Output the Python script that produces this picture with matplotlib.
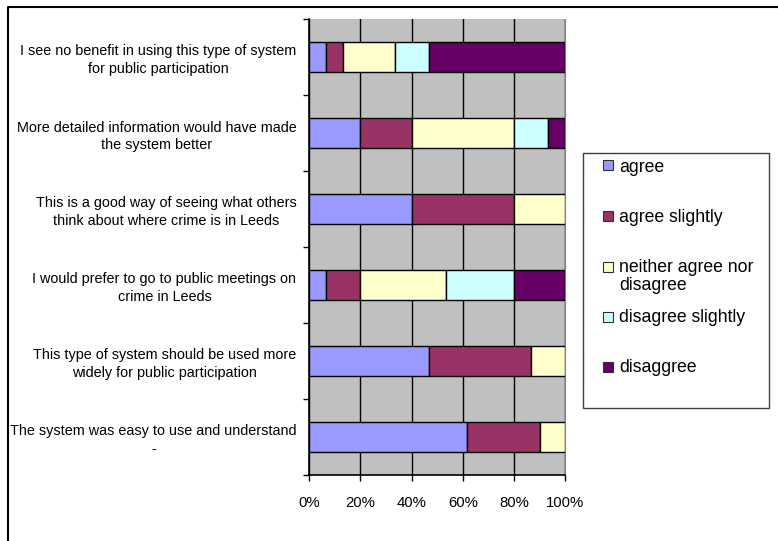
import matplotlib

matplotlib.use("Agg")
import matplotlib.pyplot as plt  # noqa: E402
import numpy as np  # noqa: E402
from matplotlib.lines import Line2D  # noqa: E402
from matplotlib.patches import Rectangle  # noqa: E402

plt.rcParams["font.family"] = ["Liberation Sans", "DejaVu Sans"]

# statements, listed top to bottom as they appear in the chart
STATEMENTS = [
    "I see no benefit in using this type of system\nfor public participation",
    "More detailed information would have made\nthe system better",
    "This is a good way of seeing what others\nthink about where crime is in Leeds",
    "I would prefer to go to public meetings on\ncrime in Leeds",
    "This type of system should be used more\nwidely for public participation",
    "The system was easy to use and understand\n-",
]

# percentage of responses per statement
AGREE = [6.7, 20.0, 40.0, 6.7, 46.7, 61.8]
AGREE_SLIGHTLY = [6.7, 20.0, 40.0, 13.3, 40.0, 28.4]
NEITHER = [20.0, 40.0, 20.0, 33.3, 13.3, 9.8]
DISAGREE_SLIGHTLY = [13.3, 13.3, 0.0, 26.7, 0.0, 0.0]
DISAGREE = [53.3, 6.7, 0.0, 20.0, 0.0, 0.0]

SERIES_LABELS = ["agree", "agree slightly", "neither agree nor\ndisagree",
                 "disagree slightly", "disaggree"]
SERIES_COLORS = ["#9999FF", "#993366", "#FFFFCC", "#CCFFFF", "#660066"]
X_TICKS = [0, 20, 40, 60, 80, 100]

W, H = 778, 541


def fx(px):
    return px / W


def fy(py):
    return 1 - py / H


fig = plt.figure(figsize=(W / 100, H / 100), dpi=100)
ax = fig.add_axes([fx(309), fy(475), fx(565.3) - fx(309), fy(19) - fy(475)])
ax.set_facecolor("#C0C0C0")

n = len(STATEMENTS)
ys = np.arange(n)[::-1]
left = np.zeros(n)
for vals, color in zip([AGREE, AGREE_SLIGHTLY, NEITHER, DISAGREE_SLIGHTLY, DISAGREE],
                       SERIES_COLORS):
    vals = np.array(vals)
    mask = vals > 0
    ax.barh(ys[mask], vals[mask], left=left[mask], height=0.4, color=color,
            edgecolor="black", linewidth=1.0, zorder=3)
    left += vals

ax.set_xlim(0, 100)
ax.set_ylim(-0.5, n - 0.5)
ax.set_xticks(X_TICKS)
ax.set_xticklabels([f"{t}%" for t in X_TICKS])
ax.xaxis.grid(True, color="black", linewidth=1.0, zorder=1)
ax.set_axisbelow(True)

ax.set_yticks(ys)
ax.set_yticklabels(STATEMENTS, multialignment="center", linespacing=1.32)
ax.set_yticks(np.arange(-0.5, n, 1.0), minor=True)
ax.tick_params(axis="y", which="major", length=0, pad=9, labelsize=10.4)
ax.tick_params(axis="y", which="minor", length=4.3, width=1.0, direction="out")
ax.tick_params(axis="x", length=4.3, width=1.0, direction="out", pad=11,
               labelsize=10.7)

ax.spines["top"].set_visible(False)
ax.spines["right"].set_color("#808080")
ax.spines["left"].set_linewidth(1.2)
ax.spines["bottom"].set_linewidth(1.2)

# chart area border (cropped on right and bottom)
fig.add_artist(Line2D([fx(8), fx(8), fx(778)], [fy(541), fy(7), fy(7)],
                      transform=fig.transFigure, color="black", linewidth=1.5))

# legend box
fig.add_artist(Rectangle((fx(583), fy(408)), fx(769) - fx(583), fy(153) - fy(408),
                         transform=fig.transFigure, facecolor="white",
                         edgecolor="#404040", linewidth=1.0))
marker_y = [165.3, 216, 266.7, 316.7, 367]
text_y = [167, 218, 276.5, 318, 368]
for label, color, my, ty in zip(SERIES_LABELS, SERIES_COLORS, marker_y, text_y):
    fig.add_artist(Rectangle((fx(603), fy(my + 5)), fx(613) - fx(603),
                             fy(my - 5) - fy(my + 5),
                             transform=fig.transFigure, facecolor=color,
                             edgecolor="#303030", linewidth=0.8))
    fig.text(fx(619), fy(ty), label, ha="left", va="center", fontsize=12.7,
             linespacing=1.02)

plt.savefig("out.png", dpi=100)
